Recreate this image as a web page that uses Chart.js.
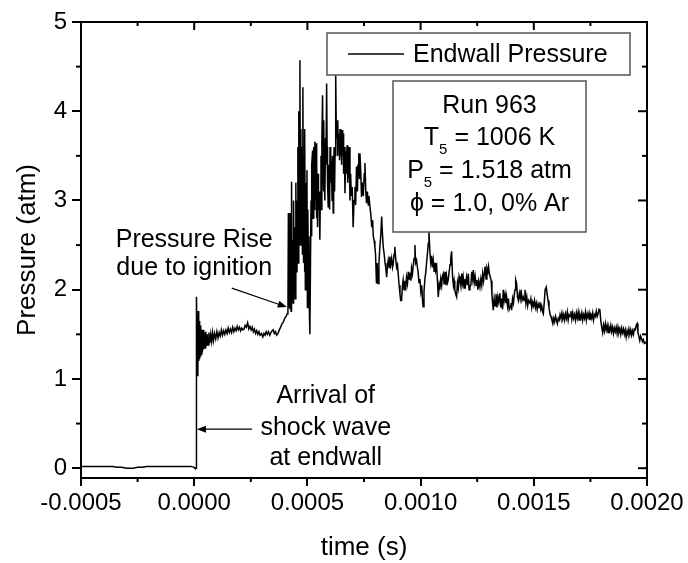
<!DOCTYPE html>
<html>
<head>
<meta charset="utf-8">
<title>Endwall Pressure</title>
<script src="https://cdn.jsdelivr.net/npm/chart.js@4.4.0/dist/chart.umd.min.js"></script>
<style>
  html, body { margin: 0; padding: 0; background: #fff; }
</style>
</head>
<body>
<canvas id="chart" width="688" height="563"></canvas>
<script>
// time in microseconds
const timeUs = [
  -500,-480,-460,-440,-420,-400,-380,-360,-340,-320,
  -300,-285,-270,-250,-230,-210,-190,-170,-150,-130,
  -110,-90,-70,-50,-30,-15,0,3,8,10,
  13,16,18,20,22,24,26,28,30,32,
  34,36,39,42,45,48,51,54,57,61,
  65,69,73,77,81,85,90,95,100,105,
  110,115,120,125,130,135,140,145,150,155,
  160,165,170,175,180,185,190,195,200,205,
  210,215,220,225,230,236,241,246,251,256,
  261,266,271,276,281,286,291,297,303,308,
  313,318,323,328,334,339,344,349,354,359,
  364,370,376,382,388,394,400,406,411,414,
  416,418,421,423,425,428,430,432,434,437,
  439,441,444,446,449,451,454,456,458,460,
  462,464,467,469,471,474,476,478,480,483,
  485,487,489,491,493,496,498,500,502,505,
  507,509,511,514,516,518,520,523,525,527,
  529,531,533,536,538,540,542,545,547,549,
  552,555,557,560,562,564,567,569,571,573,
  575,577,580,582,585,587,589,592,594,596,
  598,600,602,604,607,609,611,614,616,618,
  620,622,624,626,628,631,633,635,637,640,
  642,644,647,649,651,653,656,658,660,663,
  666,669,672,675,678,681,684,688,691,694,
  698,702,706,710,713,717,721,724,727,730,
  732,736,739,743,747,751,754,758,761,765,
  769,772,776,780,784,788,791,795,798,801,
  805,808,812,816,820,824,828,831,835,839,
  843,846,850,854,857,861,864,868,872,876,
  879,883,886,890,894,898,901,905,909,912,
  916,920,923,927,931,935,938,942,946,949,
  953,957,960,964,967,971,975,978,982,986,
  989,993,997,1001,1005,1008,1011,1015,1019,1023,
  1026,1030,1034,1037,1041,1045,1049,1052,1056,1060,
  1064,1067,1071,1074,1078,1082,1085,1089,1093,1096,
  1100,1104,1108,1112,1115,1119,1122,1126,1130,1133,
  1137,1141,1145,1148,1151,1155,1159,1163,1167,1170,
  1174,1178,1182,1185,1188,1192,1196,1199,1203,1207,
  1211,1214,1218,1222,1226,1230,1233,1237,1241,1245,
  1249,1253,1257,1262,1266,1270,1274,1278,1282,1285,
  1289,1293,1297,1300,1304,1308,1312,1315,1318,1321,
  1325,1329,1333,1337,1341,1345,1350,1354,1358,1362,
  1365,1369,1373,1377,1380,1384,1388,1391,1395,1399,
  1402,1406,1410,1414,1417,1420,1424,1428,1432,1436,
  1440,1444,1448,1453,1457,1461,1465,1469,1473,1477,
  1483,1487,1491,1495,1499,1503,1507,1511,1515,1519,
  1523,1527,1531,1535,1539,1542,1546,1550,1555,1559,
  1563,1567,1572,1576,1580,1584,1588,1592,1596,1600,
  1604,1608,1612,1616,1620,1624,1628,1632,1636,1640,
  1644,1648,1652,1656,1660,1664,1668,1672,1676,1680,
  1684,1688,1692,1696,1700,1704,1708,1712,1716,1720,
  1724,1728,1732,1736,1740,1744,1748,1752,1756,1760,
  1764,1768,1772,1776,1780,1784,1788,1792,1796,1800,
  1804,1808,1812,1816,1820,1824,1828,1832,1836,1840,
  1844,1848,1852,1856,1860,1864,1868,1872,1876,1880,
  1884,1888,1892,1896,1900,1904,1908,1912,1916,1920,
  1924,1928,1932,1936,1940,1944,1948,1952,1956,1960,
  1964,1968,1972,1976,1980,1984,1988,1992,1996,2000
];

// endwall pressure in atm, same order
const pressure = [
  0.02,0.02,0.02,0.02,0.02,0.02,0.02,0.02,0.01,0.01,
  0.00,0.00,0.00,0.01,0.01,0.02,0.02,0.02,0.02,0.02,
  0.02,0.02,0.02,0.02,0.02,0.02,0.01,0.00,0.00,1.92,
  1.30,1.03,1.76,1.20,1.65,1.22,1.60,1.25,1.58,1.28,
  1.55,1.30,1.55,1.33,1.52,1.35,1.53,1.37,1.50,1.38,
  1.52,1.40,1.50,1.42,1.52,1.43,1.51,1.45,1.53,1.46,
  1.52,1.48,1.55,1.49,1.54,1.50,1.55,1.51,1.57,1.52,
  1.56,1.52,1.58,1.53,1.57,1.54,1.59,1.55,1.58,1.54,
  1.57,1.55,1.56,1.60,1.58,1.63,1.56,1.59,1.55,1.58,
  1.53,1.56,1.51,1.54,1.50,1.53,1.49,1.51,1.47,1.51,
  1.49,1.53,1.50,1.53,1.49,1.52,1.54,1.55,1.51,1.53,
  1.49,1.51,1.55,1.58,1.62,1.64,1.68,1.70,1.73,1.75,
  2.86,1.80,2.40,1.78,2.86,1.76,3.21,1.90,2.56,1.85,
  3.00,2.00,2.70,1.90,3.20,2.20,3.00,2.30,3.60,2.30,
  4.00,2.50,4.57,2.60,3.80,2.50,3.60,2.40,4.27,2.30,
  3.50,2.20,3.80,2.00,3.20,2.10,3.34,1.80,2.90,2.00,
  2.60,1.70,1.50,2.40,3.00,2.60,3.40,3.56,2.80,3.20,
  3.60,2.90,3.66,3.00,3.64,2.80,3.40,2.70,3.30,2.90,
  3.10,2.56,3.00,3.50,2.90,3.70,4.18,3.30,3.10,3.90,
  3.20,3.00,3.70,3.40,4.31,3.60,3.20,2.93,3.40,3.10,
  2.90,3.60,3.20,3.49,3.30,3.00,3.50,2.86,3.20,3.60,
  3.10,3.50,3.80,4.41,3.70,3.90,3.50,3.90,3.60,3.75,
  3.45,3.80,3.50,3.70,3.40,3.79,3.50,3.75,3.30,3.60,
  3.08,3.55,3.30,3.62,3.20,3.34,3.60,3.00,3.30,3.05,
  3.15,2.70,3.00,3.15,2.95,3.38,3.10,3.40,3.53,3.25,
  3.53,3.30,3.04,3.20,3.05,3.30,3.42,3.10,2.97,3.10,
  2.95,3.05,2.93,2.85,2.70,2.78,2.60,2.55,2.48,2.40,
  2.07,2.30,2.07,2.30,2.48,2.60,2.82,2.65,2.48,2.40,
  2.30,2.25,2.14,2.28,2.33,2.25,2.37,2.28,2.35,2.25,
  2.29,2.40,2.48,2.35,2.25,2.28,2.18,2.05,1.95,1.88,
  1.88,2.05,2.11,2.00,2.10,2.04,2.14,2.07,2.20,2.12,
  2.19,2.10,2.24,2.18,2.26,2.35,2.50,2.30,2.33,2.25,
  2.20,2.08,2.12,1.98,2.05,1.90,1.81,1.98,2.12,2.20,
  2.29,2.40,2.52,2.65,2.42,2.30,2.38,2.25,2.33,2.20,
  2.30,2.22,2.26,2.12,1.92,2.05,2.00,2.12,2.05,2.15,
  2.18,2.06,2.20,2.05,2.15,2.08,2.11,2.20,2.28,2.35,
  2.43,2.15,2.05,2.10,2.00,1.95,1.92,2.08,2.02,2.15,
  2.11,2.04,2.18,2.08,2.14,2.02,2.12,2.06,2.14,2.05,
  2.18,2.00,2.04,2.05,2.20,2.12,2.22,2.08,2.15,2.05,
  2.11,2.00,2.10,2.03,2.12,2.05,2.18,2.10,2.20,2.26,
  2.12,2.24,2.20,2.26,2.18,2.14,2.10,1.95,1.85,1.77,
  1.90,1.82,1.95,1.80,1.92,1.86,1.96,1.80,1.90,1.78,
  2.00,1.88,1.95,1.85,1.92,1.82,1.90,1.78,1.81,1.85,
  1.77,1.90,1.85,1.95,2.00,2.11,2.07,1.92,1.88,1.96,
  1.90,2.00,1.88,1.92,1.88,2.00,1.85,1.92,1.82,1.88,
  1.85,1.90,1.80,1.86,1.82,1.88,1.80,1.85,1.78,1.84,
  1.80,1.86,1.78,1.82,1.75,1.73,1.85,2.00,2.03,1.95,
  1.88,1.80,1.72,1.70,1.66,1.62,1.68,1.64,1.70,1.66,
  1.62,1.68,1.66,1.72,1.68,1.74,1.67,1.72,1.66,1.73,
  1.68,1.75,1.66,1.72,1.70,1.76,1.67,1.74,1.68,1.72,
  1.66,1.74,1.68,1.75,1.66,1.72,1.68,1.74,1.66,1.72,
  1.68,1.75,1.66,1.73,1.69,1.74,1.66,1.72,1.68,1.74,
  1.66,1.72,1.70,1.76,1.70,1.73,1.78,1.77,1.65,1.58,
  1.52,1.60,1.54,1.62,1.55,1.60,1.52,1.58,1.54,1.60,
  1.53,1.58,1.51,1.57,1.53,1.58,1.51,1.58,1.52,1.56,
  1.50,1.57,1.52,1.56,1.50,1.55,1.47,1.54,1.50,1.56,
  1.50,1.55,1.49,1.54,1.50,1.56,1.55,1.60,1.62,1.52,
  1.48,1.43,1.48,1.45,1.42,1.44,1.40,1.41,1.40,1.40
];

const xTicks = [-0.0005, 0, 0.0005, 0.001, 0.0015, 0.002];
const xMinorTicks = [-0.00025, 0.00025, 0.00075, 0.00125, 0.00175];
const yTicks = [0, 1, 2, 3, 4, 5];
const yMinorTicks = [0.5, 1.5, 2.5, 3.5, 4.5];

// text box lines: [text, isSubscript]
const infoLines = [
  [['Run 963', false]],
  [['T', false], ['5', true], [' = 1006 K', false]],
  [['P', false], ['5', true], [' = 1.518 atm', false]],
  [['\u03D5 = 1.0, 0% Ar', false]]
];

// annotations, placed in data units (s, atm)
const notes = [
  { text: 'Pressure Rise', t: 0, p: 2.478 },
  { text: 'due to ignition', t: 0, p: 2.164 },
  { text: 'Arrival of', t: 0.000581, p: 0.729 },
  { text: 'shock wave', t: 0.000581, p: 0.37 },
  { text: 'at endwall', t: 0.000581, p: 0.034 }
];
const arrows = [
  { from: [0.000166, 2.018], to: [0.000409, 1.805] },
  { from: [0.000255, 0.437], to: [0.000012, 0.437] }
];

if (timeUs.length !== pressure.length) console.warn('length mismatch', timeUs.length, pressure.length);

const FONT = '"Liberation Sans", Arial, Helvetica, sans-serif';

function drawArrow(ctx, x1, y1, x2, y2) {
  const ang = Math.atan2(y2 - y1, x2 - x1);
  const len = 9, half = 3.5;
  ctx.beginPath();
  ctx.moveTo(x1, y1);
  ctx.lineTo(x2 - Math.cos(ang) * len * 0.8, y2 - Math.sin(ang) * len * 0.8);
  ctx.stroke();
  ctx.beginPath();
  ctx.moveTo(x2, y2);
  ctx.lineTo(x2 - Math.cos(ang) * len - Math.sin(ang) * half, y2 - Math.sin(ang) * len + Math.cos(ang) * half);
  ctx.lineTo(x2 - Math.cos(ang) * len + Math.sin(ang) * half, y2 - Math.sin(ang) * len - Math.cos(ang) * half);
  ctx.closePath();
  ctx.fill();
}

const framePlugin = {
  id: 'frame',
  afterDatasetsDraw(chart) {
    const { ctx, chartArea: a, scales: { x, y } } = chart;
    ctx.save();
    ctx.strokeStyle = '#000';
    ctx.fillStyle = '#000';
    ctx.lineWidth = 2;
    const line = (x1, y1, x2, y2) => { ctx.beginPath(); ctx.moveTo(x1, y1); ctx.lineTo(x2, y2); ctx.stroke(); };

    // top and right frame
    line(a.left - 1, a.top, a.right + 1, a.top);
    line(a.right, a.top, a.right, a.bottom);

    xTicks.forEach(v => { const px = x.getPixelForValue(v); line(px, a.top, px, a.top + 8); });
    xMinorTicks.forEach(v => {
      const px = x.getPixelForValue(v);
      line(px, a.bottom, px, a.bottom + 4);
      line(px, a.top, px, a.top + 4);
    });
    yTicks.forEach(v => { const py = y.getPixelForValue(v); line(a.right, py, a.right - 9, py); });
    yMinorTicks.forEach(v => {
      const py = y.getPixelForValue(v);
      line(a.left, py, a.left - 5, py);
      line(a.right, py, a.right - 5, py);
    });

    // legend box
    const lx = a.left + 246, ly = a.top + 11;
    ctx.fillStyle = '#fff';
    ctx.fillRect(lx, ly, 303, 42);
    ctx.strokeStyle = '#555';
    ctx.lineWidth = 1.5;
    ctx.strokeRect(lx, ly, 303, 42);
    ctx.strokeStyle = '#000';
    ctx.lineWidth = 1.3;
    line(lx + 21, ly + 21, lx + 77, ly + 21);
    ctx.fillStyle = '#000';
    ctx.font = '25px ' + FONT;
    ctx.textAlign = 'left';
    ctx.textBaseline = 'alphabetic';
    ctx.fillText(chart.data.datasets[0].label, lx + 86, ly + 29);

    // run info box
    const ix = a.left + 312, iy = a.top + 59, iw = 193, ih = 151;
    ctx.fillStyle = '#fff';
    ctx.fillRect(ix, iy, iw, ih);
    ctx.strokeStyle = '#555';
    ctx.lineWidth = 1.5;
    ctx.strokeRect(ix, iy, iw, ih);
    ctx.fillStyle = '#000';
    const base = [32, 64, 97, 130];
    infoLines.forEach((parts, i) => {
      let w = 0;
      parts.forEach(([s, sub]) => { ctx.font = (sub ? '15px ' : '25px ') + FONT; w += ctx.measureText(s).width; });
      let cx = ix + iw / 2 - w / 2;
      parts.forEach(([s, sub]) => {
        ctx.font = (sub ? '15px ' : '25px ') + FONT;
        ctx.fillText(s, cx, iy + base[i] + (sub ? 9 : 0));
        cx += ctx.measureText(s).width;
      });
    });

    // annotations
    ctx.font = '25px ' + FONT;
    ctx.textAlign = 'center';
    notes.forEach(n => ctx.fillText(n.text, x.getPixelForValue(n.t), y.getPixelForValue(n.p)));
    ctx.strokeStyle = '#000';
    ctx.lineWidth = 1.2;
    arrows.forEach(ar => drawArrow(ctx,
      x.getPixelForValue(ar.from[0]), y.getPixelForValue(ar.from[1]),
      x.getPixelForValue(ar.to[0]), y.getPixelForValue(ar.to[1])));
    ctx.restore();
  }
};

const ctx = document.getElementById('chart').getContext('2d');
const myChart = new Chart(ctx, {
  type: 'line',
  data: {
    datasets: [{
      label: 'Endwall Pressure',
      data: timeUs.map((t, i) => ({ x: t * 1e-6, y: pressure[i] })),
      borderColor: '#000',
      borderWidth: 1.5,
      pointRadius: 0,
      tension: 0,
      fill: false
    }]
  },
  options: {
    responsive: false,
    animation: false,
    devicePixelRatio: 1,
    layout: { padding: { top: 22, right: 41, left: 0, bottom: 0 } },
    plugins: { legend: { display: false }, tooltip: { enabled: false } },
    scales: {
      x: {
        type: 'linear',
        min: -0.0005,
        max: 0.002,
        afterBuildTicks: s => { s.ticks = xTicks.map(v => ({ value: v })); },
        afterFit: s => { s.height = 85; },
        ticks: {
          callback: v => v.toFixed(4),
          color: '#000',
          font: { family: FONT, size: 24 },
          padding: 3,
          maxRotation: 0,
          autoSkip: false
        },
        grid: { display: true, drawOnChartArea: false, drawTicks: true, tickLength: 8, color: '#000', lineWidth: 2 },
        border: { display: true, color: '#000', width: 2 },
        title: { display: true, text: 'time (s)', color: '#000', font: { family: FONT, size: 26 }, padding: { top: 0, bottom: 0 } }
      },
      y: {
        min: -0.11,
        max: 5,
        afterBuildTicks: s => { s.ticks = yTicks.map(v => ({ value: v })); },
        afterFit: s => { s.width = 81; },
        ticks: {
          callback: v => String(v),
          color: '#000',
          font: { family: FONT, size: 24 },
          padding: 5
        },
        grid: { display: true, drawOnChartArea: false, drawTicks: true, tickLength: 9, color: '#000', lineWidth: 2 },
        border: { display: true, color: '#000', width: 2 },
        title: { display: true, text: 'Pressure (atm)', color: '#000', font: { family: FONT, size: 26 }, padding: { top: 12, bottom: 0 } }
      }
    }
  },
  plugins: [framePlugin]
});
</script>
</body>
</html>
